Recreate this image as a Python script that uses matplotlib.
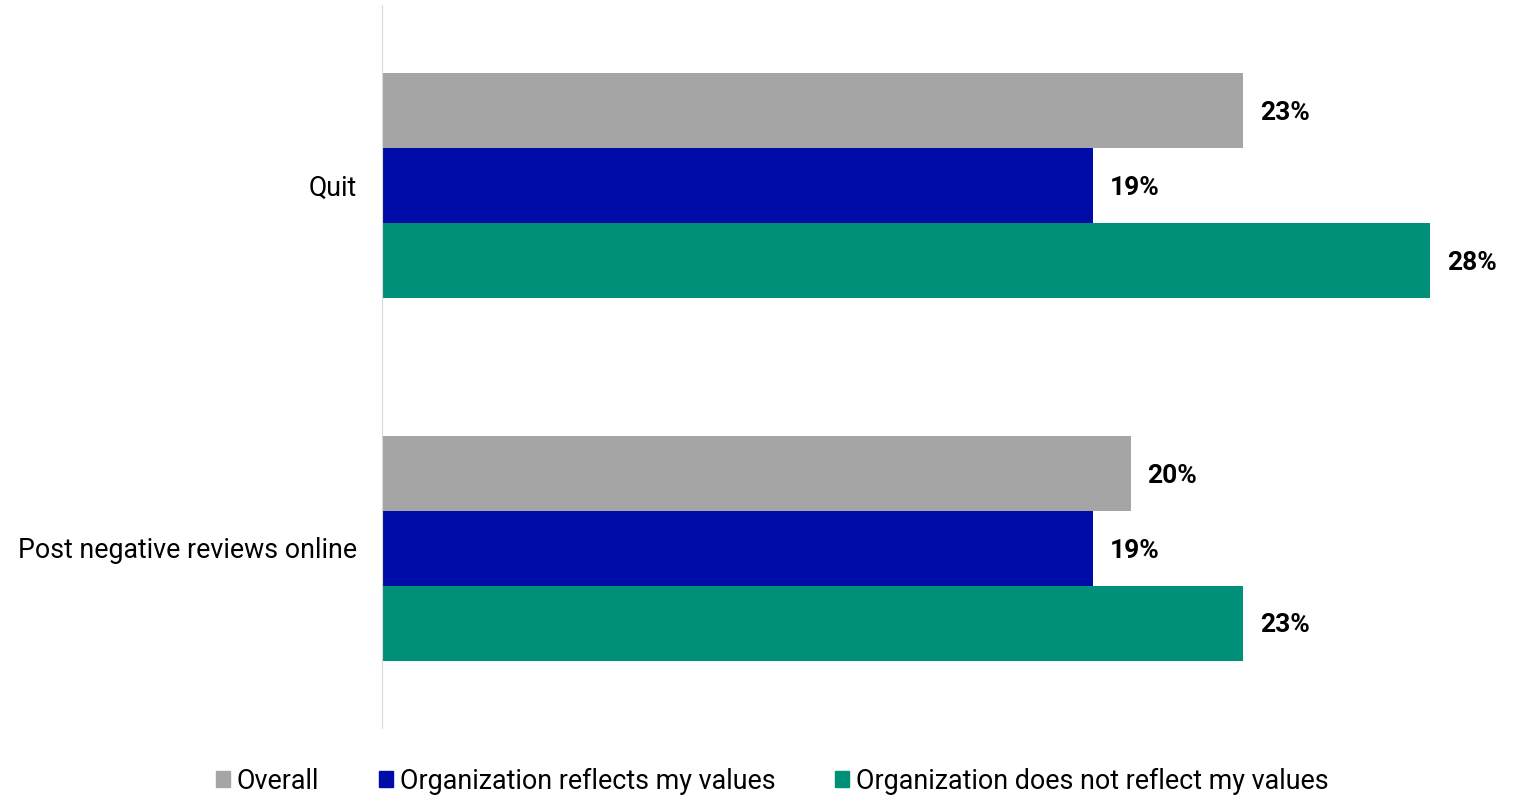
import numpy as np
import matplotlib.pyplot as plt
from matplotlib.patches import Patch

plt.rcParams['font.family'] = ['Roboto', 'DejaVu Sans']

categories = ['Quit', 'Post negative reviews online']
series = ['Overall', 'Organization reflects my values', 'Organization does not reflect my values']
overall = [23, 20]
reflects = [19, 19]
not_reflects = [28, 23]
colors = ['#A5A5A5', '#000CA8', '#00907A']

fig = plt.figure(figsize=(15.27, 7.97), dpi=100)
ax = fig.add_axes([382 / 1527, 69 / 797, 1123 / 1527, 723 / 797])

y = np.arange(len(categories))
h = 75 / 363
for i, (vals, c) in enumerate(zip([overall, reflects, not_reflects], colors)):
    pos = y + (i - 1) * h
    ax.barh(pos, vals, height=h, color=c)
    for p, v in zip(pos, vals):
        ax.text(v + 0.45, p, f'{v}%', va='center_baseline', ha='left',
                fontsize=19, fontweight='bold', color='#000000')

ax.set_xlim(0, 30)
ax.set_ylim(1 + 180 / 363, -180 / 363)
ax.set_yticks(y)
ax.set_yticklabels(categories, fontsize=19.3)
ax.tick_params(axis='y', length=0, pad=18)
ax.set_xticks([])
for s in ['top', 'right', 'bottom']:
    ax.spines[s].set_visible(False)
ax.spines['left'].set_color('#D9D9D9')

handles = [Patch(color=c) for c in colors]
fig.legend(handles, series, loc='center', bbox_to_anchor=(0.5056, 1 - 781 / 797),
           ncol=3, frameon=False, fontsize=19.4, handlelength=0.52, handleheight=0.52,
           handletextpad=0.26, columnspacing=2.2)

fig.savefig('out.png', dpi=100)
